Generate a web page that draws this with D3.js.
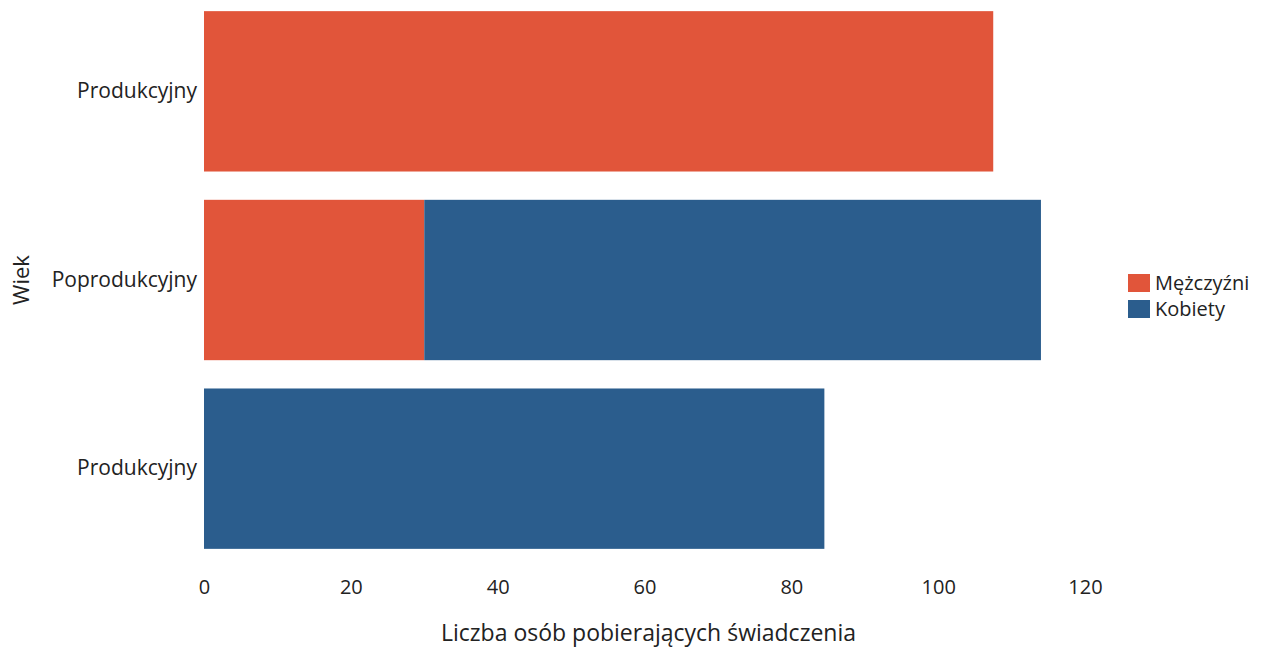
<!DOCTYPE html>
<html><head><meta charset="utf-8">
<script src="https://cdn.jsdelivr.net/npm/d3@7"></script>
<style>body{margin:0;background:#fff;}svg{display:block;font-family:"Open Sans",sans-serif;}</style>
</head><body>
<svg id="c" width="1267" height="650"></svg>
<script>
const categories = ["Produkcyjny", "Poprodukcyjny", "Produkcyjny"];
const seriesNames = ["Mężczyźni", "Kobiety"];
const menValues = [107.5, 30, 0];
const womenValues = [0, 84, 84.5];
const xTicks = [0, 20, 40, 60, 80, 100, 120];
const colors = ["#e1553a", "#2b5d8d"];

const svg = d3.select("#c");
const margin = {left: 204, right: 182, top: -3, bottom: 87};
const W = 1267, H = 650;
const x = d3.scaleLinear().domain([0, 120]).range([margin.left, W - margin.right]);
const ids = categories.map((c, i) => i);
const y = d3.scaleBand().domain(ids).range([margin.top, H - margin.bottom]).paddingInner(0.15).paddingOuter(0.075);

const rows = categories.map((c, i) => ({id: i, name: c, v: [menValues[i], womenValues[i]]}));
const stackData = rows.map(r => ({id: r.id, "Mężczyźni": r.v[0], "Kobiety": r.v[1]}));
const stack = d3.stack().keys(seriesNames)(stackData);

svg.append("g").selectAll("g").data(stack).join("g")
  .attr("fill", (d, i) => colors[i])
  .selectAll("rect").data(d => d).join("rect")
  .attr("x", d => x(d[0]))
  .attr("width", d => Math.max(0, x(d[1]) - x(d[0])))
  .attr("y", d => y(d.data.id))
  .attr("height", y.bandwidth());

// y labels
const yAxis = d3.axisLeft(y).tickSize(0).tickPadding(7).tickFormat(i => categories[i]);
const gy = svg.append("g").attr("transform", `translate(${margin.left},0)`).call(yAxis);
gy.select(".domain").remove();
gy.selectAll("text").attr("font-size", 21).attr("fill", "#222").attr("font-family", "Open Sans");

// x axis
const xAxis = d3.axisBottom(x).tickValues(xTicks).tickSize(0).tickPadding(17);
const gx = svg.append("g").attr("transform", `translate(0,${H - margin.bottom})`).call(xAxis);
gx.select(".domain").remove();
gx.selectAll("text").attr("font-size", 20).attr("fill", "#222").attr("font-family", "Open Sans");

svg.append("text").attr("x", (x(0) + x(120)) / 2 + 4).attr("y", 641)
  .attr("text-anchor", "middle").attr("font-size", 23).attr("fill", "#222")
  .text("Liczba osób pobierających świadczenia");
svg.append("text").attr("transform", `translate(29,${(y.range()[0] + y.range()[1]) / 2}) rotate(-90)`)
  .attr("text-anchor", "middle").attr("font-size", 22).attr("fill", "#222").text("Wiek");

// legend
const lg = svg.append("g").attr("transform", "translate(1128,274)");
seriesNames.forEach((s, i) => {
  const g = lg.append("g").attr("transform", `translate(0,${i * 26})`);
  g.append("rect").attr("width", 22).attr("height", 18).attr("fill", colors[i]);
  g.append("text").attr("x", 27).attr("y", 16).attr("font-size", 20).attr("fill", "#222").text(s);
});
</script>
</body></html>
